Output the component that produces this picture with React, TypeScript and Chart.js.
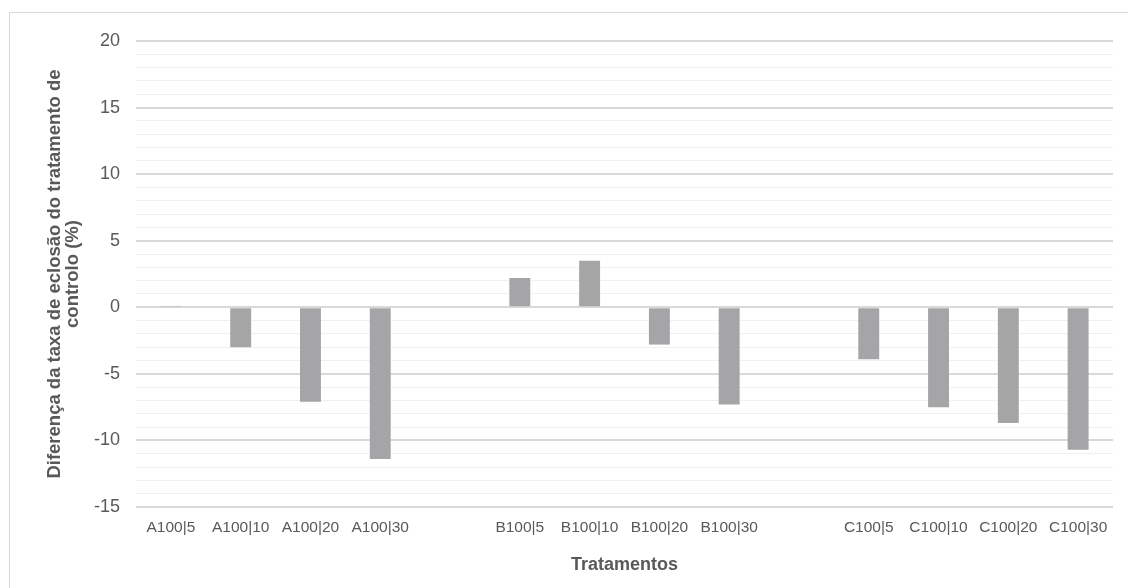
import React, { useEffect, useRef } from "react";
import { Chart, registerables } from "chart.js";

Chart.register(...registerables);

const categories = [
  "A100|5", "A100|10", "A100|20", "A100|30", "",
  "B100|5", "B100|10", "B100|20", "B100|30", "",
  "C100|5", "C100|10", "C100|20", "C100|30",
];
const values: (number | null)[] = [
  0.1, -3.0, -7.1, -11.4, null,
  2.2, 3.5, -2.8, -7.3, null,
  -3.9, -7.5, -8.7, -10.7,
];
const yTitle = ["Diferença da taxa de eclosão do tratamento de", "controlo (%)"];
const xTitle = "Tratamentos";
const yMin = -15;
const yMax = 20;

const FONT = "'Liberation Sans', Arial, sans-serif";
const TEXT = "#595959";

const borderPlugin = {
  id: "outerBorder",
  beforeDraw(chart: any) {
    const ctx = chart.ctx;
    ctx.save();
    ctx.fillStyle = "#ffffff";
    ctx.fillRect(0, 0, chart.width, chart.height);
    ctx.strokeStyle = "#d9d9d9";
    ctx.lineWidth = 1;
    ctx.strokeRect(9.5, 12.5, 1400, 800);
    ctx.restore();
  },
};

export default function App() {
  const ref = useRef<HTMLCanvasElement>(null);
  useEffect(() => {
    if (!ref.current) return;
    const chart = new Chart(ref.current, {
      type: "bar",
      data: {
        labels: categories,
        datasets: [
          {
            data: values,
            backgroundColor: "#a5a5a7",
            borderWidth: 0,
            barPercentage: 0.3,
            categoryPercentage: 1,
          },
        ],
      },
      plugins: [borderPlugin],
      options: {
        animation: false,
        responsive: false,
        maintainAspectRatio: false,
        layout: { padding: { left: 30, right: 15, top: 41, bottom: 0 } },
        plugins: { legend: { display: false }, tooltip: { enabled: false } },
        scales: {
          x: {
            afterFit: (s: any) => {
              s.height = 81;
            },
            grid: { display: false, drawTicks: false },
            border: { display: false },
            ticks: {
              color: TEXT,
              font: { family: FONT, size: 15.5 },
              padding: 11,
              maxRotation: 0,
              autoSkip: false,
            },
            title: {
              display: true,
              text: xTitle,
              color: TEXT,
              font: { family: FONT, size: 18, weight: "bold" },
              padding: { top: 0, bottom: 12 },
            },
          },
          y: {
            min: yMin,
            max: yMax,
            afterFit: (s: any) => {
              s.width = 106;
            },
            grid: {
              drawTicks: false,
              color: (c: any) => (c.tick && c.tick.value % 5 === 0 ? "#d9d9d9" : "#f0f0f0"),
              lineWidth: (c: any) => (c.tick && c.tick.value % 5 === 0 ? 2 : 1),
            },
            border: { display: false },
            ticks: {
              stepSize: 1,
              autoSkip: false,
              color: TEXT,
              font: { family: FONT, size: 18 },
              padding: 16,
              callback: (v: any) => (Number(v) % 5 === 0 ? String(v) : ""),
            },
            title: {
              display: true,
              text: yTitle,
              color: TEXT,
              font: { family: FONT, size: 18.5, weight: "bold", lineHeight: 0.97 },
              padding: { top: 16, bottom: 0 },
            },
          },
        },
      },
    });
    return () => chart.destroy();
  }, []);
  return (
    <div style={{ position: "fixed", left: 0, top: 0, width: 1128, height: 588 }}>
      <canvas ref={ref} width={1128} height={588} style={{ display: "block" }} />
    </div>
  );
}
